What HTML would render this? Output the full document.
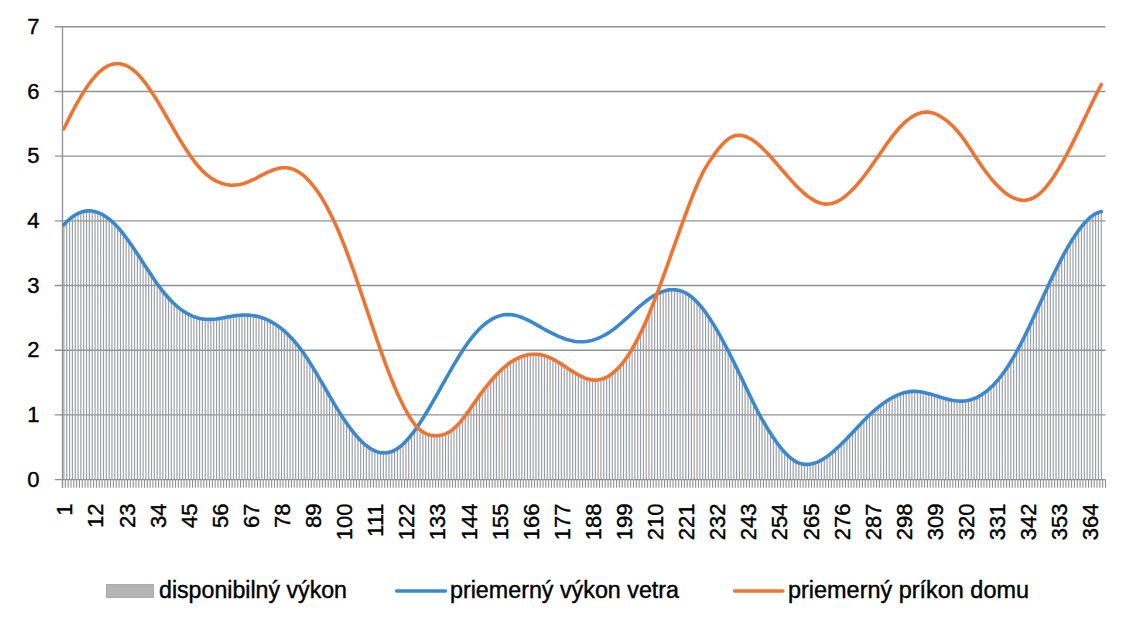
<!DOCTYPE html>
<html><head><meta charset="utf-8"><style>
html,body{margin:0;padding:0;background:#fff;}
body{width:1128px;height:623px;overflow:hidden;}
svg{display:block;}
text{font-family:"Liberation Sans",sans-serif;}
</style></head><body>
<svg width="1128" height="623" viewBox="0 0 1128 623">
<rect width="1128" height="623" fill="#fff"/>
<path d="M54.8 414.91H1105.5M54.8 350.22H1105.5M54.8 285.53H1105.5M54.8 220.84H1105.5M54.8 156.15H1105.5M54.8 91.46H1105.5M54.8 26.77H1105.5" stroke="#8e9196" stroke-width="1.35" fill="none"/>
<path d="M63.91 224.8V479.6M66.74 221.8V479.6M69.57 219.1V479.6M72.39 216.9V479.6M75.22 215.0V479.6M78.05 213.4V479.6M80.87 212.3V479.6M83.70 211.5V479.6M86.53 211.0V479.6M89.35 210.9V479.6M92.18 211.1V479.6M95.01 211.6V479.6M97.83 212.5V479.6M100.66 213.7V479.6M103.49 215.2V479.6M106.31 217.0V479.6M109.14 219.1V479.6M111.96 221.5V479.6M114.79 224.1V479.6M117.62 227.1V479.6M120.44 230.4V479.6M123.27 233.9V479.6M126.10 237.6V479.6M128.92 241.5V479.6M131.75 245.5V479.6M134.58 249.7V479.6M137.40 253.9V479.6M140.23 258.3V479.6M143.06 262.6V479.6M145.88 267.0V479.6M148.71 271.3V479.6M151.54 275.5V479.6M154.36 279.7V479.6M157.19 283.7V479.6M160.02 287.6V479.6M162.84 291.3V479.6M165.67 294.7V479.6M168.50 298.0V479.6M171.32 301.0V479.6M174.15 303.7V479.6M176.98 306.3V479.6M179.80 308.6V479.6M182.63 310.6V479.6M185.46 312.5V479.6M188.28 314.1V479.6M191.11 315.5V479.6M193.93 316.6V479.6M196.76 317.6V479.6M199.59 318.4V479.6M202.41 318.9V479.6M205.24 319.3V479.6M208.07 319.4V479.6M210.89 319.4V479.6M213.72 319.2V479.6M216.55 318.9V479.6M219.37 318.5V479.6M222.20 318.0V479.6M225.03 317.5V479.6M227.85 316.9V479.6M230.68 316.4V479.6M233.51 315.9V479.6M236.33 315.6V479.6M239.16 315.3V479.6M241.99 315.1V479.6M244.81 315.0V479.6M247.64 315.1V479.6M250.47 315.3V479.6M253.29 315.7V479.6M256.12 316.2V479.6M258.95 316.9V479.6M261.77 317.7V479.6M264.60 318.7V479.6M267.43 319.9V479.6M270.25 321.3V479.6M273.08 322.8V479.6M275.91 324.6V479.6M278.73 326.6V479.6M281.56 328.7V479.6M284.38 331.1V479.6M287.21 333.7V479.6M290.04 336.5V479.6M292.86 339.6V479.6M295.69 342.8V479.6M298.52 346.3V479.6M301.34 350.0V479.6M304.17 354.0V479.6M307.00 358.2V479.6M309.82 362.6V479.6M312.65 367.1V479.6M315.48 371.8V479.6M318.30 376.5V479.6M321.13 381.4V479.6M323.96 386.2V479.6M326.78 391.1V479.6M329.61 396.0V479.6M332.44 400.8V479.6M335.26 405.5V479.6M338.09 410.1V479.6M340.92 414.6V479.6M343.74 419.0V479.6M346.57 423.1V479.6M349.40 427.1V479.6M352.22 430.8V479.6M355.05 434.3V479.6M357.88 437.6V479.6M360.70 440.6V479.6M363.53 443.3V479.6M366.36 445.6V479.6M369.18 447.7V479.6M372.01 449.5V479.6M374.83 450.9V479.6M377.66 451.9V479.6M380.49 452.6V479.6M383.31 452.9V479.6M386.14 452.8V479.6M388.97 452.4V479.6M391.79 451.5V479.6M394.62 450.2V479.6M397.45 448.6V479.6M400.27 446.5V479.6M403.10 444.0V479.6M405.93 441.2V479.6M408.75 438.1V479.6M411.58 434.6V479.6M414.41 430.9V479.6M417.23 427.2V479.6M420.06 429.9V479.6M422.89 432.0V479.6M425.71 433.5V479.6M428.54 434.6V479.6M431.37 435.3V479.6M434.19 435.6V479.6M437.02 435.7V479.6M439.85 435.4V479.6M442.67 434.8V479.6M445.50 433.8V479.6M448.33 432.5V479.6M451.15 430.7V479.6M453.98 428.5V479.6M456.80 425.8V479.6M459.63 422.7V479.6M462.46 419.3V479.6M465.28 415.6V479.6M468.11 411.7V479.6M470.94 407.7V479.6M473.76 403.6V479.6M476.59 399.6V479.6M479.42 395.6V479.6M482.24 391.8V479.6M485.07 388.1V479.6M487.90 384.5V479.6M490.72 381.1V479.6M493.55 377.9V479.6M496.38 374.8V479.6M499.20 372.0V479.6M502.03 369.3V479.6M504.86 366.8V479.6M507.68 364.5V479.6M510.51 362.4V479.6M513.34 360.6V479.6M516.16 359.0V479.6M518.99 357.6V479.6M521.82 356.5V479.6M524.64 355.6V479.6M527.47 354.9V479.6M530.30 354.4V479.6M533.12 354.2V479.6M535.95 354.2V479.6M538.78 354.5V479.6M541.60 355.0V479.6M544.43 355.7V479.6M547.25 356.6V479.6M550.08 357.8V479.6M552.91 359.2V479.6M555.73 360.7V479.6M558.56 362.4V479.6M561.39 364.2V479.6M564.21 366.0V479.6M567.04 367.9V479.6M569.87 369.7V479.6M572.69 371.6V479.6M575.52 373.3V479.6M578.35 374.9V479.6M581.17 376.4V479.6M584.00 377.6V479.6M586.83 378.7V479.6M589.65 379.5V479.6M592.48 380.0V479.6M595.31 380.1V479.6M598.13 380.0V479.6M600.96 379.4V479.6M603.79 378.5V479.6M606.61 377.2V479.6M609.44 375.5V479.6M612.27 373.5V479.6M615.09 371.1V479.6M617.92 368.3V479.6M620.75 365.2V479.6M623.57 361.7V479.6M626.40 357.9V479.6M629.22 353.7V479.6M632.05 349.1V479.6M634.88 344.1V479.6M637.70 338.8V479.6M640.53 333.2V479.6M643.36 327.1V479.6M646.18 320.8V479.6M649.01 314.1V479.6M651.84 307.1V479.6M654.66 299.9V479.6M657.49 293.7V479.6M660.32 292.4V479.6M663.14 291.3V479.6M665.97 290.5V479.6M668.80 290.0V479.6M671.62 289.7V479.6M674.45 289.7V479.6M677.28 290.1V479.6M680.10 290.7V479.6M682.93 291.7V479.6M685.76 293.1V479.6M688.58 294.8V479.6M691.41 296.8V479.6M694.24 299.3V479.6M697.06 302.1V479.6M699.89 305.2V479.6M702.72 308.7V479.6M705.54 312.4V479.6M708.37 316.5V479.6M711.20 320.8V479.6M714.02 325.3V479.6M716.85 330.0V479.6M719.67 335.0V479.6M722.50 340.1V479.6M725.33 345.4V479.6M728.15 350.9V479.6M730.98 356.4V479.6M733.81 362.1V479.6M736.63 367.9V479.6M739.46 373.7V479.6M742.29 379.6V479.6M745.11 385.5V479.6M747.94 391.5V479.6M750.77 397.4V479.6M753.59 403.2V479.6M756.42 408.8V479.6M759.25 414.2V479.6M762.07 419.4V479.6M764.90 424.2V479.6M767.73 428.9V479.6M770.55 433.3V479.6M773.38 437.6V479.6M776.21 441.6V479.6M779.03 445.5V479.6M781.86 449.0V479.6M784.69 452.3V479.6M787.51 455.2V479.6M790.34 457.7V479.6M793.17 459.9V479.6M795.99 461.6V479.6M798.82 462.9V479.6M801.64 463.8V479.6M804.47 464.3V479.6M807.30 464.4V479.6M810.12 464.2V479.6M812.95 463.6V479.6M815.78 462.7V479.6M818.60 461.5V479.6M821.43 460.1V479.6M824.26 458.4V479.6M827.08 456.5V479.6M829.91 454.3V479.6M832.74 452.0V479.6M835.56 449.5V479.6M838.39 446.9V479.6M841.22 444.2V479.6M844.04 441.4V479.6M846.87 438.5V479.6M849.70 435.5V479.6M852.52 432.5V479.6M855.35 429.5V479.6M858.18 426.5V479.6M861.00 423.5V479.6M863.83 420.6V479.6M866.66 417.8V479.6M869.48 415.0V479.6M872.31 412.4V479.6M875.14 409.8V479.6M877.96 407.5V479.6M880.79 405.2V479.6M883.62 403.1V479.6M886.44 401.1V479.6M889.27 399.4V479.6M892.09 397.7V479.6M894.92 396.3V479.6M897.75 395.0V479.6M900.57 393.9V479.6M903.40 393.0V479.6M906.23 392.2V479.6M909.05 391.7V479.6M911.88 391.4V479.6M914.71 391.4V479.6M917.53 391.5V479.6M920.36 391.8V479.6M923.19 392.3V479.6M926.01 392.9V479.6M928.84 393.6V479.6M931.67 394.4V479.6M934.49 395.3V479.6M937.32 396.1V479.6M940.15 397.0V479.6M942.97 397.9V479.6M945.80 398.7V479.6M948.63 399.4V479.6M951.45 400.1V479.6M954.28 400.6V479.6M957.11 400.9V479.6M959.93 401.1V479.6M962.76 401.1V479.6M965.59 400.8V479.6M968.41 400.3V479.6M971.24 399.6V479.6M974.07 398.6V479.6M976.89 397.3V479.6M979.72 395.8V479.6M982.54 394.1V479.6M985.37 392.1V479.6M988.20 389.8V479.6M991.02 387.3V479.6M993.85 384.5V479.6M996.68 381.4V479.6M999.50 378.0V479.6M1002.33 374.4V479.6M1005.16 370.5V479.6M1007.98 366.3V479.6M1010.81 361.8V479.6M1013.64 357.1V479.6M1016.46 352.0V479.6M1019.29 346.7V479.6M1022.12 341.3V479.6M1024.94 335.6V479.6M1027.77 329.8V479.6M1030.60 323.8V479.6M1033.42 317.8V479.6M1036.25 311.7V479.6M1039.08 305.5V479.6M1041.90 299.4V479.6M1044.73 293.2V479.6M1047.56 287.2V479.6M1050.38 281.2V479.6M1053.21 275.2V479.6M1056.04 269.5V479.6M1058.86 263.8V479.6M1061.69 258.4V479.6M1064.51 253.1V479.6M1067.34 248.0V479.6M1070.17 243.2V479.6M1072.99 238.6V479.6M1075.82 234.3V479.6M1078.65 230.3V479.6M1081.47 226.6V479.6M1084.30 223.3V479.6M1087.13 220.3V479.6M1089.95 217.7V479.6M1092.78 215.5V479.6M1095.61 213.7V479.6M1098.43 212.4V479.6M1101.26 211.6V479.6" stroke="#9a9ea6" stroke-width="1.18" fill="none"/>
<path d="M62.5 26.7V487.70000000000005" stroke="#8e9196" stroke-width="1.35" fill="none"/>
<path d="M62.50 479.6V487.7M65.33 479.6V487.7M68.15 479.6V487.7M70.98 479.6V487.7M73.81 479.6V487.7M76.63 479.6V487.7M79.46 479.6V487.7M82.29 479.6V487.7M85.11 479.6V487.7M87.94 479.6V487.7M90.77 479.6V487.7M93.59 479.6V487.7M96.42 479.6V487.7M99.25 479.6V487.7M102.07 479.6V487.7M104.90 479.6V487.7M107.72 479.6V487.7M110.55 479.6V487.7M113.38 479.6V487.7M116.20 479.6V487.7M119.03 479.6V487.7M121.86 479.6V487.7M124.68 479.6V487.7M127.51 479.6V487.7M130.34 479.6V487.7M133.16 479.6V487.7M135.99 479.6V487.7M138.82 479.6V487.7M141.64 479.6V487.7M144.47 479.6V487.7M147.30 479.6V487.7M150.12 479.6V487.7M152.95 479.6V487.7M155.78 479.6V487.7M158.60 479.6V487.7M161.43 479.6V487.7M164.26 479.6V487.7M167.08 479.6V487.7M169.91 479.6V487.7M172.74 479.6V487.7M175.56 479.6V487.7M178.39 479.6V487.7M181.22 479.6V487.7M184.04 479.6V487.7M186.87 479.6V487.7M189.70 479.6V487.7M192.52 479.6V487.7M195.35 479.6V487.7M198.17 479.6V487.7M201.00 479.6V487.7M203.83 479.6V487.7M206.65 479.6V487.7M209.48 479.6V487.7M212.31 479.6V487.7M215.13 479.6V487.7M217.96 479.6V487.7M220.79 479.6V487.7M223.61 479.6V487.7M226.44 479.6V487.7M229.27 479.6V487.7M232.09 479.6V487.7M234.92 479.6V487.7M237.75 479.6V487.7M240.57 479.6V487.7M243.40 479.6V487.7M246.23 479.6V487.7M249.05 479.6V487.7M251.88 479.6V487.7M254.71 479.6V487.7M257.53 479.6V487.7M260.36 479.6V487.7M263.19 479.6V487.7M266.01 479.6V487.7M268.84 479.6V487.7M271.67 479.6V487.7M274.49 479.6V487.7M277.32 479.6V487.7M280.14 479.6V487.7M282.97 479.6V487.7M285.80 479.6V487.7M288.62 479.6V487.7M291.45 479.6V487.7M294.28 479.6V487.7M297.10 479.6V487.7M299.93 479.6V487.7M302.76 479.6V487.7M305.58 479.6V487.7M308.41 479.6V487.7M311.24 479.6V487.7M314.06 479.6V487.7M316.89 479.6V487.7M319.72 479.6V487.7M322.54 479.6V487.7M325.37 479.6V487.7M328.20 479.6V487.7M331.02 479.6V487.7M333.85 479.6V487.7M336.68 479.6V487.7M339.50 479.6V487.7M342.33 479.6V487.7M345.16 479.6V487.7M347.98 479.6V487.7M350.81 479.6V487.7M353.64 479.6V487.7M356.46 479.6V487.7M359.29 479.6V487.7M362.12 479.6V487.7M364.94 479.6V487.7M367.77 479.6V487.7M370.59 479.6V487.7M373.42 479.6V487.7M376.25 479.6V487.7M379.07 479.6V487.7M381.90 479.6V487.7M384.73 479.6V487.7M387.55 479.6V487.7M390.38 479.6V487.7M393.21 479.6V487.7M396.03 479.6V487.7M398.86 479.6V487.7M401.69 479.6V487.7M404.51 479.6V487.7M407.34 479.6V487.7M410.17 479.6V487.7M412.99 479.6V487.7M415.82 479.6V487.7M418.65 479.6V487.7M421.47 479.6V487.7M424.30 479.6V487.7M427.13 479.6V487.7M429.95 479.6V487.7M432.78 479.6V487.7M435.61 479.6V487.7M438.43 479.6V487.7M441.26 479.6V487.7M444.09 479.6V487.7M446.91 479.6V487.7M449.74 479.6V487.7M452.57 479.6V487.7M455.39 479.6V487.7M458.22 479.6V487.7M461.04 479.6V487.7M463.87 479.6V487.7M466.70 479.6V487.7M469.52 479.6V487.7M472.35 479.6V487.7M475.18 479.6V487.7M478.00 479.6V487.7M480.83 479.6V487.7M483.66 479.6V487.7M486.48 479.6V487.7M489.31 479.6V487.7M492.14 479.6V487.7M494.96 479.6V487.7M497.79 479.6V487.7M500.62 479.6V487.7M503.44 479.6V487.7M506.27 479.6V487.7M509.10 479.6V487.7M511.92 479.6V487.7M514.75 479.6V487.7M517.58 479.6V487.7M520.40 479.6V487.7M523.23 479.6V487.7M526.06 479.6V487.7M528.88 479.6V487.7M531.71 479.6V487.7M534.54 479.6V487.7M537.36 479.6V487.7M540.19 479.6V487.7M543.01 479.6V487.7M545.84 479.6V487.7M548.67 479.6V487.7M551.49 479.6V487.7M554.32 479.6V487.7M557.15 479.6V487.7M559.97 479.6V487.7M562.80 479.6V487.7M565.63 479.6V487.7M568.45 479.6V487.7M571.28 479.6V487.7M574.11 479.6V487.7M576.93 479.6V487.7M579.76 479.6V487.7M582.59 479.6V487.7M585.41 479.6V487.7M588.24 479.6V487.7M591.07 479.6V487.7M593.89 479.6V487.7M596.72 479.6V487.7M599.55 479.6V487.7M602.37 479.6V487.7M605.20 479.6V487.7M608.03 479.6V487.7M610.85 479.6V487.7M613.68 479.6V487.7M616.51 479.6V487.7M619.33 479.6V487.7M622.16 479.6V487.7M624.99 479.6V487.7M627.81 479.6V487.7M630.64 479.6V487.7M633.46 479.6V487.7M636.29 479.6V487.7M639.12 479.6V487.7M641.94 479.6V487.7M644.77 479.6V487.7M647.60 479.6V487.7M650.42 479.6V487.7M653.25 479.6V487.7M656.08 479.6V487.7M658.90 479.6V487.7M661.73 479.6V487.7M664.56 479.6V487.7M667.38 479.6V487.7M670.21 479.6V487.7M673.04 479.6V487.7M675.86 479.6V487.7M678.69 479.6V487.7M681.52 479.6V487.7M684.34 479.6V487.7M687.17 479.6V487.7M690.00 479.6V487.7M692.82 479.6V487.7M695.65 479.6V487.7M698.48 479.6V487.7M701.30 479.6V487.7M704.13 479.6V487.7M706.96 479.6V487.7M709.78 479.6V487.7M712.61 479.6V487.7M715.43 479.6V487.7M718.26 479.6V487.7M721.09 479.6V487.7M723.91 479.6V487.7M726.74 479.6V487.7M729.57 479.6V487.7M732.39 479.6V487.7M735.22 479.6V487.7M738.05 479.6V487.7M740.87 479.6V487.7M743.70 479.6V487.7M746.53 479.6V487.7M749.35 479.6V487.7M752.18 479.6V487.7M755.01 479.6V487.7M757.83 479.6V487.7M760.66 479.6V487.7M763.49 479.6V487.7M766.31 479.6V487.7M769.14 479.6V487.7M771.97 479.6V487.7M774.79 479.6V487.7M777.62 479.6V487.7M780.45 479.6V487.7M783.27 479.6V487.7M786.10 479.6V487.7M788.93 479.6V487.7M791.75 479.6V487.7M794.58 479.6V487.7M797.41 479.6V487.7M800.23 479.6V487.7M803.06 479.6V487.7M805.88 479.6V487.7M808.71 479.6V487.7M811.54 479.6V487.7M814.36 479.6V487.7M817.19 479.6V487.7M820.02 479.6V487.7M822.84 479.6V487.7M825.67 479.6V487.7M828.50 479.6V487.7M831.32 479.6V487.7M834.15 479.6V487.7M836.98 479.6V487.7M839.80 479.6V487.7M842.63 479.6V487.7M845.46 479.6V487.7M848.28 479.6V487.7M851.11 479.6V487.7M853.94 479.6V487.7M856.76 479.6V487.7M859.59 479.6V487.7M862.42 479.6V487.7M865.24 479.6V487.7M868.07 479.6V487.7M870.90 479.6V487.7M873.72 479.6V487.7M876.55 479.6V487.7M879.38 479.6V487.7M882.20 479.6V487.7M885.03 479.6V487.7M887.86 479.6V487.7M890.68 479.6V487.7M893.51 479.6V487.7M896.33 479.6V487.7M899.16 479.6V487.7M901.99 479.6V487.7M904.81 479.6V487.7M907.64 479.6V487.7M910.47 479.6V487.7M913.29 479.6V487.7M916.12 479.6V487.7M918.95 479.6V487.7M921.77 479.6V487.7M924.60 479.6V487.7M927.43 479.6V487.7M930.25 479.6V487.7M933.08 479.6V487.7M935.91 479.6V487.7M938.73 479.6V487.7M941.56 479.6V487.7M944.39 479.6V487.7M947.21 479.6V487.7M950.04 479.6V487.7M952.87 479.6V487.7M955.69 479.6V487.7M958.52 479.6V487.7M961.35 479.6V487.7M964.17 479.6V487.7M967.00 479.6V487.7M969.83 479.6V487.7M972.65 479.6V487.7M975.48 479.6V487.7M978.30 479.6V487.7M981.13 479.6V487.7M983.96 479.6V487.7M986.78 479.6V487.7M989.61 479.6V487.7M992.44 479.6V487.7M995.26 479.6V487.7M998.09 479.6V487.7M1000.92 479.6V487.7M1003.74 479.6V487.7M1006.57 479.6V487.7M1009.40 479.6V487.7M1012.22 479.6V487.7M1015.05 479.6V487.7M1017.88 479.6V487.7M1020.70 479.6V487.7M1023.53 479.6V487.7M1026.36 479.6V487.7M1029.18 479.6V487.7M1032.01 479.6V487.7M1034.84 479.6V487.7M1037.66 479.6V487.7M1040.49 479.6V487.7M1043.32 479.6V487.7M1046.14 479.6V487.7M1048.97 479.6V487.7M1051.80 479.6V487.7M1054.62 479.6V487.7M1057.45 479.6V487.7M1060.28 479.6V487.7M1063.10 479.6V487.7M1065.93 479.6V487.7M1068.75 479.6V487.7M1071.58 479.6V487.7M1074.41 479.6V487.7M1077.23 479.6V487.7M1080.06 479.6V487.7M1082.89 479.6V487.7M1085.71 479.6V487.7M1088.54 479.6V487.7M1091.37 479.6V487.7M1094.19 479.6V487.7M1097.02 479.6V487.7M1099.85 479.6V487.7M1102.67 479.6V487.7M1105.50 479.6V487.7" stroke="#8e9196" stroke-width="1.1" fill="none"/>
<path d="M54.8 479.6H1105.5" stroke="#8e9196" stroke-width="1.35" fill="none"/>
<path d="M63.9 224.8 L65.9 222.6 L67.9 220.6 L69.9 218.8 L71.9 217.2 L73.9 215.8 L75.9 214.6 L77.9 213.5 L79.9 212.6 L81.9 211.9 L83.9 211.4 L85.9 211.1 L87.9 210.9 L89.9 210.9 L91.9 211.0 L93.9 211.4 L95.9 211.9 L97.9 212.5 L99.9 213.3 L101.9 214.3 L103.9 215.4 L105.9 216.7 L107.9 218.1 L109.9 219.7 L111.9 221.4 L113.9 223.3 L115.9 225.3 L117.9 227.4 L119.9 229.7 L121.9 232.1 L123.9 234.7 L125.9 237.3 L127.9 240.0 L129.9 242.9 L131.9 245.7 L133.9 248.7 L135.9 251.7 L137.9 254.7 L139.9 257.8 L141.9 260.9 L143.9 263.9 L145.9 267.0 L147.9 270.1 L149.9 273.1 L151.9 276.1 L153.9 279.0 L155.9 281.9 L157.9 284.7 L159.9 287.4 L161.9 290.1 L163.9 292.6 L165.9 295.0 L167.9 297.3 L169.9 299.5 L171.9 301.6 L173.9 303.5 L175.9 305.4 L177.9 307.1 L179.9 308.6 L181.9 310.1 L183.9 311.5 L185.9 312.7 L187.9 313.9 L189.9 314.9 L191.9 315.8 L193.9 316.6 L195.9 317.3 L197.9 317.9 L199.9 318.4 L201.9 318.8 L203.9 319.1 L205.9 319.3 L207.9 319.4 L209.9 319.4 L211.9 319.4 L213.9 319.2 L215.9 319.0 L217.9 318.7 L219.9 318.4 L221.9 318.1 L223.9 317.7 L225.9 317.3 L227.9 316.9 L229.9 316.6 L231.9 316.2 L233.9 315.9 L235.9 315.6 L237.9 315.4 L239.9 315.2 L241.9 315.1 L243.9 315.0 L245.9 315.0 L247.9 315.1 L249.9 315.3 L251.9 315.5 L253.9 315.8 L255.9 316.1 L257.9 316.6 L259.9 317.1 L261.9 317.7 L263.9 318.4 L265.9 319.2 L267.9 320.1 L269.9 321.1 L271.9 322.2 L273.9 323.3 L275.9 324.6 L277.9 326.0 L279.9 327.4 L281.9 329.0 L283.9 330.7 L285.9 332.5 L287.9 334.4 L289.9 336.4 L291.9 338.5 L293.9 340.7 L295.9 343.1 L297.9 345.5 L299.9 348.1 L301.9 350.8 L303.9 353.6 L305.9 356.6 L307.9 359.6 L309.9 362.7 L311.9 365.9 L313.9 369.2 L315.9 372.5 L317.9 375.9 L319.9 379.3 L321.9 382.7 L323.9 386.1 L325.9 389.6 L327.9 393.0 L329.9 396.5 L331.9 399.9 L333.9 403.3 L335.9 406.6 L337.9 409.9 L339.9 413.1 L341.9 416.2 L343.9 419.2 L345.9 422.2 L347.9 425.0 L349.9 427.8 L351.9 430.4 L353.9 432.9 L355.9 435.3 L357.9 437.6 L359.9 439.7 L361.9 441.7 L363.9 443.6 L365.9 445.3 L367.9 446.8 L369.9 448.2 L371.9 449.4 L373.9 450.4 L375.9 451.3 L377.9 452.0 L379.9 452.5 L381.9 452.8 L383.9 452.9 L385.9 452.8 L387.9 452.6 L389.9 452.1 L391.9 451.5 L393.9 450.6 L395.9 449.5 L397.9 448.3 L399.9 446.8 L401.9 445.1 L403.9 443.3 L405.9 441.2 L407.9 439.0 L409.9 436.7 L411.9 434.2 L413.9 431.6 L415.9 428.8 L417.9 426.0 L419.9 423.0 L421.9 419.9 L423.9 416.8 L425.9 413.5 L427.9 410.2 L429.9 406.8 L431.9 403.4 L433.9 399.9 L435.9 396.4 L437.9 392.9 L439.9 389.3 L441.9 385.7 L443.9 382.2 L445.9 378.6 L447.9 375.1 L449.9 371.6 L451.9 368.1 L453.9 364.7 L455.9 361.3 L457.9 358.0 L459.9 354.8 L461.9 351.7 L463.9 348.6 L465.9 345.7 L467.9 342.8 L469.9 340.1 L471.9 337.5 L473.9 335.1 L475.9 332.8 L477.9 330.6 L479.9 328.6 L481.9 326.6 L483.9 324.9 L485.9 323.2 L487.9 321.7 L489.9 320.4 L491.9 319.2 L493.9 318.1 L495.9 317.2 L497.9 316.4 L499.9 315.7 L501.9 315.2 L503.9 314.8 L505.9 314.6 L507.9 314.5 L509.9 314.6 L511.9 314.8 L513.9 315.1 L515.9 315.5 L517.9 316.1 L519.9 316.7 L521.9 317.5 L523.9 318.3 L525.9 319.2 L527.9 320.2 L529.9 321.2 L531.9 322.2 L533.9 323.3 L535.9 324.4 L537.9 325.6 L539.9 326.7 L541.9 327.8 L543.9 329.0 L545.9 330.1 L547.9 331.1 L549.9 332.2 L551.9 333.2 L553.9 334.2 L555.9 335.2 L557.9 336.1 L559.9 336.9 L561.9 337.7 L563.9 338.5 L565.9 339.2 L567.9 339.8 L569.9 340.3 L571.9 340.8 L573.9 341.2 L575.9 341.5 L577.9 341.7 L579.9 341.8 L581.9 341.8 L583.9 341.7 L585.9 341.5 L587.9 341.2 L589.9 340.8 L591.9 340.4 L593.9 339.8 L595.9 339.1 L597.9 338.3 L599.9 337.5 L601.9 336.5 L603.9 335.5 L605.9 334.4 L607.9 333.2 L609.9 331.9 L611.9 330.5 L613.9 329.1 L615.9 327.5 L617.9 325.9 L619.9 324.2 L621.9 322.5 L623.9 320.7 L625.9 318.9 L627.9 317.1 L629.9 315.3 L631.9 313.4 L633.9 311.6 L635.9 309.7 L637.9 307.9 L639.9 306.2 L641.9 304.5 L643.9 302.8 L645.9 301.2 L647.9 299.7 L649.9 298.2 L651.9 296.9 L653.9 295.7 L655.9 294.5 L657.9 293.5 L659.9 292.6 L661.9 291.8 L663.9 291.1 L665.9 290.5 L667.9 290.1 L669.9 289.8 L671.9 289.7 L673.9 289.7 L675.9 289.9 L677.9 290.2 L679.9 290.7 L681.9 291.3 L683.9 292.1 L685.9 293.1 L687.9 294.3 L689.9 295.7 L691.9 297.2 L693.9 299.0 L695.9 300.9 L697.9 303.0 L699.9 305.3 L701.9 307.7 L703.9 310.2 L705.9 312.9 L707.9 315.8 L709.9 318.8 L711.9 321.9 L713.9 325.1 L715.9 328.4 L717.9 331.9 L719.9 335.4 L721.9 339.0 L723.9 342.8 L725.9 346.5 L727.9 350.4 L729.9 354.3 L731.9 358.3 L733.9 362.3 L735.9 366.4 L737.9 370.5 L739.9 374.7 L741.9 378.8 L743.9 383.0 L745.9 387.2 L747.9 391.4 L749.9 395.6 L751.9 399.7 L753.9 403.8 L755.9 407.8 L757.9 411.7 L759.9 415.5 L761.9 419.1 L763.9 422.5 L765.9 425.9 L767.9 429.2 L769.9 432.3 L771.9 435.4 L773.9 438.4 L775.9 441.2 L777.9 444.0 L779.9 446.6 L781.9 449.1 L783.9 451.4 L785.9 453.6 L787.9 455.6 L789.9 457.4 L791.9 459.0 L793.9 460.4 L795.9 461.6 L797.9 462.6 L799.9 463.3 L801.9 463.9 L803.9 464.2 L805.9 464.4 L807.9 464.4 L809.9 464.2 L811.9 463.8 L813.9 463.3 L815.9 462.6 L817.9 461.8 L819.9 460.9 L821.9 459.8 L823.9 458.6 L825.9 457.3 L827.9 455.9 L829.9 454.3 L831.9 452.7 L833.9 451.0 L835.9 449.2 L837.9 447.4 L839.9 445.5 L841.9 443.5 L843.9 441.5 L845.9 439.5 L847.9 437.4 L849.9 435.3 L851.9 433.2 L853.9 431.0 L855.9 428.9 L857.9 426.8 L859.9 424.7 L861.9 422.6 L863.9 420.5 L865.9 418.5 L867.9 416.5 L869.9 414.6 L871.9 412.7 L873.9 410.9 L875.9 409.2 L877.9 407.5 L879.9 405.9 L881.9 404.4 L883.9 402.9 L885.9 401.5 L887.9 400.2 L889.9 399.0 L891.9 397.8 L893.9 396.8 L895.9 395.8 L897.9 394.9 L899.9 394.1 L901.9 393.4 L903.9 392.8 L905.9 392.3 L907.9 391.9 L909.9 391.6 L911.9 391.4 L913.9 391.4 L915.9 391.4 L917.9 391.5 L919.9 391.7 L921.9 392.0 L923.9 392.4 L925.9 392.9 L927.9 393.4 L929.9 393.9 L931.9 394.5 L933.9 395.1 L935.9 395.7 L937.9 396.3 L939.9 397.0 L941.9 397.6 L943.9 398.2 L945.9 398.7 L947.9 399.3 L949.9 399.7 L951.9 400.2 L953.9 400.5 L955.9 400.8 L957.9 401.0 L959.9 401.1 L961.9 401.1 L963.9 401.0 L965.9 400.8 L967.9 400.4 L969.9 400.0 L971.9 399.4 L973.9 398.6 L975.9 397.8 L977.9 396.8 L979.9 395.7 L981.9 394.5 L983.9 393.1 L985.9 391.7 L987.9 390.0 L989.9 388.3 L991.9 386.4 L993.9 384.4 L995.9 382.2 L997.9 380.0 L999.9 377.5 L1001.9 375.0 L1003.9 372.2 L1005.9 369.4 L1007.9 366.4 L1009.9 363.3 L1011.9 360.0 L1013.9 356.6 L1015.9 353.0 L1017.9 349.3 L1019.9 345.6 L1021.9 341.7 L1023.9 337.7 L1025.9 333.6 L1027.9 329.5 L1029.9 325.3 L1031.9 321.0 L1033.9 316.7 L1035.9 312.4 L1037.9 308.1 L1039.9 303.7 L1041.9 299.4 L1043.9 295.0 L1045.9 290.7 L1047.9 286.4 L1049.9 282.1 L1051.9 277.9 L1053.9 273.8 L1055.9 269.7 L1057.9 265.7 L1059.9 261.8 L1061.9 257.9 L1063.9 254.2 L1065.9 250.6 L1067.9 247.0 L1069.9 243.6 L1071.9 240.3 L1073.9 237.2 L1075.9 234.2 L1077.9 231.3 L1079.9 228.6 L1081.9 226.1 L1083.9 223.7 L1085.9 221.5 L1087.9 219.5 L1089.9 217.7 L1091.9 216.1 L1093.9 214.7 L1095.9 213.6 L1097.9 212.6 L1099.9 211.9 L1101.3 211.6" stroke="#3b88cd" stroke-width="3.6" fill="none" stroke-linejoin="round" stroke-linecap="round"/>
<path d="M63.9 128.8 L65.9 124.7 L67.9 120.6 L69.9 116.6 L71.9 112.7 L73.9 108.9 L75.9 105.2 L77.9 101.6 L79.9 98.1 L81.9 94.8 L83.9 91.6 L85.9 88.5 L87.9 85.6 L89.9 82.8 L91.9 80.2 L93.9 77.8 L95.9 75.5 L97.9 73.4 L99.9 71.5 L101.9 69.8 L103.9 68.3 L105.9 67.0 L107.9 65.9 L109.9 65.1 L111.9 64.4 L113.9 63.9 L115.9 63.7 L117.9 63.7 L119.9 63.8 L121.9 64.2 L123.9 64.7 L125.9 65.5 L127.9 66.5 L129.9 67.6 L131.9 69.0 L133.9 70.5 L135.9 72.3 L137.9 74.2 L139.9 76.4 L141.9 78.7 L143.9 81.1 L145.9 83.7 L147.9 86.5 L149.9 89.4 L151.9 92.4 L153.9 95.5 L155.9 98.7 L157.9 101.9 L159.9 105.3 L161.9 108.7 L163.9 112.1 L165.9 115.6 L167.9 119.1 L169.9 122.5 L171.9 126.0 L173.9 129.5 L175.9 132.9 L177.9 136.3 L179.9 139.7 L181.9 142.9 L183.9 146.1 L185.9 149.3 L187.9 152.3 L189.9 155.2 L191.9 158.1 L193.9 160.8 L195.9 163.3 L197.9 165.8 L199.9 168.0 L201.9 170.2 L203.9 172.1 L205.9 174.0 L207.9 175.6 L209.9 177.2 L211.9 178.6 L213.9 179.8 L215.9 180.9 L217.9 181.9 L219.9 182.7 L221.9 183.5 L223.9 184.0 L225.9 184.5 L227.9 184.8 L229.9 185.1 L231.9 185.2 L233.9 185.1 L235.9 185.0 L237.9 184.8 L239.9 184.4 L241.9 183.9 L243.9 183.4 L245.9 182.7 L247.9 182.0 L249.9 181.1 L251.9 180.2 L253.9 179.3 L255.9 178.3 L257.9 177.2 L259.9 176.2 L261.9 175.2 L263.9 174.1 L265.9 173.1 L267.9 172.2 L269.9 171.3 L271.9 170.5 L273.9 169.7 L275.9 169.1 L277.9 168.5 L279.9 168.1 L281.9 167.8 L283.9 167.7 L285.9 167.7 L287.9 168.0 L289.9 168.3 L291.9 168.9 L293.9 169.6 L295.9 170.5 L297.9 171.6 L299.9 172.9 L301.9 174.3 L303.9 175.9 L305.9 177.7 L307.9 179.7 L309.9 181.8 L311.9 184.1 L313.9 186.6 L315.9 189.3 L317.9 192.1 L319.9 195.1 L321.9 198.2 L323.9 201.6 L325.9 205.1 L327.9 208.8 L329.9 212.7 L331.9 216.7 L333.9 220.9 L335.9 225.3 L337.9 229.8 L339.9 234.5 L341.9 239.4 L343.9 244.5 L345.9 249.7 L347.9 255.0 L349.9 260.4 L351.9 266.0 L353.9 271.7 L355.9 277.4 L357.9 283.3 L359.9 289.1 L361.9 295.1 L363.9 301.0 L365.9 307.0 L367.9 313.0 L369.9 318.9 L371.9 324.9 L373.9 330.8 L375.9 336.7 L377.9 342.5 L379.9 348.2 L381.9 353.8 L383.9 359.4 L385.9 364.8 L387.9 370.1 L389.9 375.3 L391.9 380.3 L393.9 385.2 L395.9 389.9 L397.9 394.4 L399.9 398.7 L401.9 402.8 L403.9 406.8 L405.9 410.5 L407.9 414.1 L409.9 417.5 L411.9 420.5 L413.9 423.3 L415.9 425.8 L417.9 427.9 L419.9 429.8 L421.9 431.3 L423.9 432.6 L425.9 433.6 L427.9 434.4 L429.9 435.0 L431.9 435.4 L433.9 435.6 L435.9 435.7 L437.9 435.6 L439.9 435.4 L441.9 435.0 L443.9 434.4 L445.9 433.6 L447.9 432.7 L449.9 431.5 L451.9 430.1 L453.9 428.5 L455.9 426.7 L457.9 424.6 L459.9 422.4 L461.9 420.0 L463.9 417.4 L465.9 414.8 L467.9 412.0 L469.9 409.2 L471.9 406.3 L473.9 403.4 L475.9 400.6 L477.9 397.7 L479.9 394.9 L481.9 392.2 L483.9 389.6 L485.9 387.0 L487.9 384.5 L489.9 382.1 L491.9 379.8 L493.9 377.5 L495.9 375.3 L497.9 373.2 L499.9 371.3 L501.9 369.4 L503.9 367.6 L505.9 365.9 L507.9 364.3 L509.9 362.8 L511.9 361.5 L513.9 360.2 L515.9 359.1 L517.9 358.1 L519.9 357.2 L521.9 356.4 L523.9 355.8 L525.9 355.2 L527.9 354.8 L529.9 354.5 L531.9 354.3 L533.9 354.2 L535.9 354.2 L537.9 354.4 L539.9 354.6 L541.9 355.0 L543.9 355.5 L545.9 356.1 L547.9 356.9 L549.9 357.7 L551.9 358.7 L553.9 359.7 L555.9 360.8 L557.9 362.0 L559.9 363.2 L561.9 364.5 L563.9 365.8 L565.9 367.1 L567.9 368.5 L569.9 369.8 L571.9 371.1 L573.9 372.3 L575.9 373.5 L577.9 374.7 L579.9 375.7 L581.9 376.7 L583.9 377.6 L585.9 378.4 L587.9 379.0 L589.9 379.5 L591.9 379.9 L593.9 380.1 L595.9 380.1 L597.9 380.0 L599.9 379.6 L601.9 379.1 L603.9 378.4 L605.9 377.5 L607.9 376.5 L609.9 375.2 L611.9 373.8 L613.9 372.1 L615.9 370.3 L617.9 368.4 L619.9 366.2 L621.9 363.8 L623.9 361.3 L625.9 358.6 L627.9 355.7 L629.9 352.6 L631.9 349.3 L633.9 345.9 L635.9 342.2 L637.9 338.4 L639.9 334.4 L641.9 330.3 L643.9 325.9 L645.9 321.4 L647.9 316.7 L649.9 311.9 L651.9 306.9 L653.9 301.8 L655.9 296.6 L657.9 291.3 L659.9 285.9 L661.9 280.5 L663.9 274.9 L665.9 269.4 L667.9 263.7 L669.9 258.1 L671.9 252.4 L673.9 246.8 L675.9 241.1 L677.9 235.5 L679.9 229.9 L681.9 224.4 L683.9 218.9 L685.9 213.5 L687.9 208.1 L689.9 202.9 L691.9 197.7 L693.9 192.7 L695.9 187.8 L697.9 183.1 L699.9 178.7 L701.9 174.5 L703.9 170.7 L705.9 167.1 L707.9 163.9 L709.9 160.8 L711.9 157.9 L713.9 155.1 L715.9 152.3 L717.9 149.7 L719.9 147.2 L721.9 144.9 L723.9 142.8 L725.9 140.9 L727.9 139.3 L729.9 137.9 L731.9 136.9 L733.9 136.1 L735.9 135.6 L737.9 135.4 L739.9 135.3 L741.9 135.6 L743.9 136.0 L745.9 136.6 L747.9 137.5 L749.9 138.5 L751.9 139.7 L753.9 141.0 L755.9 142.5 L757.9 144.1 L759.9 145.9 L761.9 147.7 L763.9 149.7 L765.9 151.7 L767.9 153.8 L769.9 156.0 L771.9 158.2 L773.9 160.5 L775.9 162.7 L777.9 165.1 L779.9 167.4 L781.9 169.7 L783.9 172.0 L785.9 174.3 L787.9 176.6 L789.9 178.9 L791.9 181.1 L793.9 183.3 L795.9 185.4 L797.9 187.4 L799.9 189.4 L801.9 191.3 L803.9 193.1 L805.9 194.8 L807.9 196.4 L809.9 197.8 L811.9 199.1 L813.9 200.3 L815.9 201.4 L817.9 202.3 L819.9 203.0 L821.9 203.5 L823.9 203.9 L825.9 204.1 L827.9 204.0 L829.9 203.8 L831.9 203.4 L833.9 202.8 L835.9 202.0 L837.9 201.1 L839.9 200.0 L841.9 198.7 L843.9 197.3 L845.9 195.7 L847.9 194.0 L849.9 192.2 L851.9 190.3 L853.9 188.2 L855.9 186.0 L857.9 183.7 L859.9 181.3 L861.9 178.9 L863.9 176.3 L865.9 173.7 L867.9 171.0 L869.9 168.2 L871.9 165.4 L873.9 162.5 L875.9 159.6 L877.9 156.7 L879.9 153.8 L881.9 150.9 L883.9 148.0 L885.9 145.1 L887.9 142.3 L889.9 139.6 L891.9 136.9 L893.9 134.4 L895.9 131.9 L897.9 129.5 L899.9 127.3 L901.9 125.2 L903.9 123.2 L905.9 121.4 L907.9 119.8 L909.9 118.2 L911.9 116.9 L913.9 115.7 L915.9 114.6 L917.9 113.7 L919.9 113.1 L921.9 112.5 L923.9 112.2 L925.9 112.1 L927.9 112.1 L929.9 112.4 L931.9 112.8 L933.9 113.4 L935.9 114.2 L937.9 115.1 L939.9 116.2 L941.9 117.4 L943.9 118.7 L945.9 120.1 L947.9 121.7 L949.9 123.5 L951.9 125.3 L953.9 127.3 L955.9 129.5 L957.9 131.8 L959.9 134.2 L961.9 136.7 L963.9 139.4 L965.9 142.2 L967.9 145.2 L969.9 148.2 L971.9 151.3 L973.9 154.5 L975.9 157.5 L977.9 160.5 L979.9 163.5 L981.9 166.4 L983.9 169.2 L985.9 171.9 L987.9 174.5 L989.9 177.0 L991.9 179.5 L993.9 181.8 L995.9 184.0 L997.9 186.1 L999.9 188.1 L1001.9 189.9 L1003.9 191.7 L1005.9 193.2 L1007.9 194.7 L1009.9 196.0 L1011.9 197.1 L1013.9 198.0 L1015.9 198.8 L1017.9 199.5 L1019.9 199.9 L1021.9 200.2 L1023.9 200.3 L1025.9 200.1 L1027.9 199.8 L1029.9 199.3 L1031.9 198.5 L1033.9 197.6 L1035.9 196.4 L1037.9 195.0 L1039.9 193.3 L1041.9 191.5 L1043.9 189.4 L1045.9 187.2 L1047.9 184.7 L1049.9 182.1 L1051.9 179.3 L1053.9 176.4 L1055.9 173.3 L1057.9 170.1 L1059.9 166.7 L1061.9 163.3 L1063.9 159.7 L1065.9 156.0 L1067.9 152.2 L1069.9 148.4 L1071.9 144.4 L1073.9 140.4 L1075.9 136.4 L1077.9 132.3 L1079.9 128.2 L1081.9 124.0 L1083.9 119.9 L1085.9 115.7 L1087.9 111.5 L1089.9 107.4 L1091.9 103.2 L1093.9 99.1 L1095.9 95.1 L1097.9 91.1 L1099.9 87.1 L1101.3 84.5" stroke="#ed7431" stroke-width="3.6" fill="none" stroke-linejoin="round" stroke-linecap="round"/>
<g font-family="Liberation Sans" font-size="22" fill="#000" stroke="#000" stroke-width="0.4">
<text x="39.5" y="486.80" text-anchor="end">0</text><text x="39.5" y="422.11" text-anchor="end">1</text><text x="39.5" y="357.42" text-anchor="end">2</text><text x="39.5" y="292.73" text-anchor="end">3</text><text x="39.5" y="228.04" text-anchor="end">4</text><text x="39.5" y="163.35" text-anchor="end">5</text><text x="39.5" y="98.66" text-anchor="end">6</text><text x="39.5" y="33.97" text-anchor="end">7</text>
<text transform="translate(72.31 503.5) rotate(-90)" text-anchor="end">1</text><text transform="translate(103.41 503.5) rotate(-90)" text-anchor="end">12</text><text transform="translate(134.50 503.5) rotate(-90)" text-anchor="end">23</text><text transform="translate(165.59 503.5) rotate(-90)" text-anchor="end">34</text><text transform="translate(196.68 503.5) rotate(-90)" text-anchor="end">45</text><text transform="translate(227.77 503.5) rotate(-90)" text-anchor="end">56</text><text transform="translate(258.87 503.5) rotate(-90)" text-anchor="end">67</text><text transform="translate(289.96 503.5) rotate(-90)" text-anchor="end">78</text><text transform="translate(321.05 503.5) rotate(-90)" text-anchor="end">89</text><text transform="translate(352.14 503.5) rotate(-90)" text-anchor="end">100</text><text transform="translate(383.23 503.5) rotate(-90)" text-anchor="end">111</text><text transform="translate(414.33 503.5) rotate(-90)" text-anchor="end">122</text><text transform="translate(445.42 503.5) rotate(-90)" text-anchor="end">133</text><text transform="translate(476.51 503.5) rotate(-90)" text-anchor="end">144</text><text transform="translate(507.60 503.5) rotate(-90)" text-anchor="end">155</text><text transform="translate(538.70 503.5) rotate(-90)" text-anchor="end">166</text><text transform="translate(569.79 503.5) rotate(-90)" text-anchor="end">177</text><text transform="translate(600.88 503.5) rotate(-90)" text-anchor="end">188</text><text transform="translate(631.97 503.5) rotate(-90)" text-anchor="end">199</text><text transform="translate(663.06 503.5) rotate(-90)" text-anchor="end">210</text><text transform="translate(694.16 503.5) rotate(-90)" text-anchor="end">221</text><text transform="translate(725.25 503.5) rotate(-90)" text-anchor="end">232</text><text transform="translate(756.34 503.5) rotate(-90)" text-anchor="end">243</text><text transform="translate(787.43 503.5) rotate(-90)" text-anchor="end">254</text><text transform="translate(818.52 503.5) rotate(-90)" text-anchor="end">265</text><text transform="translate(849.62 503.5) rotate(-90)" text-anchor="end">276</text><text transform="translate(880.71 503.5) rotate(-90)" text-anchor="end">287</text><text transform="translate(911.80 503.5) rotate(-90)" text-anchor="end">298</text><text transform="translate(942.89 503.5) rotate(-90)" text-anchor="end">309</text><text transform="translate(973.99 503.5) rotate(-90)" text-anchor="end">320</text><text transform="translate(1005.08 503.5) rotate(-90)" text-anchor="end">331</text><text transform="translate(1036.17 503.5) rotate(-90)" text-anchor="end">342</text><text transform="translate(1067.26 503.5) rotate(-90)" text-anchor="end">353</text><text transform="translate(1098.35 503.5) rotate(-90)" text-anchor="end">364</text>
</g>
<g font-family="Liberation Sans" font-size="23" fill="#000" stroke-width="0.4">
<rect x="106.5" y="584.5" width="47" height="13" fill="#b3b5b9" stroke="#a9acb1" stroke-width="1"/>
<text x="159" y="597.6" textLength="188" lengthAdjust="spacingAndGlyphs" stroke="#000">disponibilný výkon</text>
<path d="M396.7 591H445.5" stroke="#3b88cd" stroke-width="3.4" stroke-linecap="round"/>
<text x="450" y="597.6" textLength="229" lengthAdjust="spacingAndGlyphs" stroke="#000">priemerný výkon vetra</text>
<path d="M734.6 591H782.9" stroke="#ed7431" stroke-width="3.4" stroke-linecap="round"/>
<text x="788" y="597.6" textLength="241" lengthAdjust="spacingAndGlyphs" stroke="#000">priemerný príkon domu</text>
</g>
</svg>
</body></html>
